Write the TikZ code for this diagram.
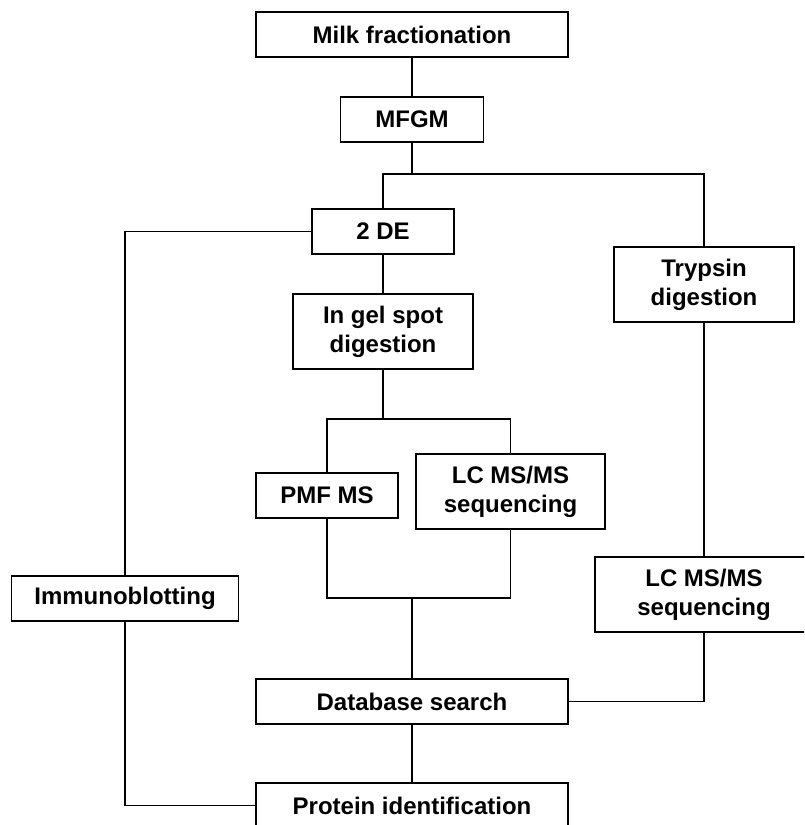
\documentclass[tikz,border=0pt]{standalone}
\usepackage{fontspec}
\setmainfont{Liberation Sans}
\begin{document}
\begin{tikzpicture}[x=1pt,y=-1pt,
  box/.style={draw=black, line width=1.8pt, rectangle, inner sep=0pt, align=center,
    font=\fontsize{24}{29}\selectfont\bfseries},
  conn/.style={line width=1.8pt, black}]
\useasboundingbox (0,0) rectangle (804,825);
\clip (0,0) rectangle (804,825);
\fill[white] (0,0) rectangle (804,825);
\node[box, minimum width=312pt, minimum height=45pt] (milk) at (412,34.5) {Milk fractionation};
\node[box, minimum width=143pt, minimum height=45pt] (mfgm) at (412,119.5) {MFGM};
\node[box, minimum width=142pt, minimum height=45pt] (de) at (383,231.5) {2 DE};
\node[box, minimum width=180pt, minimum height=75pt] (ingel) at (383,331.5) {In gel spot\\digestion};
\node[box, minimum width=180pt, minimum height=75pt] (tryp) at (704,284.5) {Trypsin\\digestion};
\node[box, minimum width=142pt, minimum height=45pt] (pmf) at (327,495.5) {PMF MS};
\node[box, minimum width=189pt, minimum height=75pt] (lc1) at (510.5,491.5) {LC MS/MS\\sequencing};
\node[box, minimum width=227pt, minimum height=45pt] (immuno) at (125,598.5) {Immunoblotting};
\node[box, minimum width=218pt, minimum height=75pt] (lc2) at (704,594.5) {LC MS/MS\\sequencing};
\node[box, minimum width=312pt, minimum height=45pt] (db) at (412,701.5) {Database search};
\node[box, minimum width=312pt, minimum height=45pt] (prot) at (412,805.5) {Protein identification};
\coordinate (j1) at (412,174);
\coordinate (j2) at (383,419);
\coordinate (j3) at (412,598);
\draw[conn] (milk.south) -- (mfgm.north);
\draw[conn] (mfgm.south) -- (j1);
\draw[conn] (de.north) |- (j1) -| (tryp.north);
\draw[conn] (de.west) -| (immuno.north);
\draw[conn] (de.south) -- (ingel.north);
\draw[conn] (ingel.south) -- (j2);
\draw[conn] (pmf.north) |- (j2) -| (lc1.north);
\draw[conn] (pmf.south) |- (j3) -| (lc1.south);
\draw[conn] (j3) -- (db.north);
\draw[conn] (tryp.south) -- (lc2.north);
\draw[conn] (lc2.south) |- (db.east);
\draw[conn] (immuno.south) |- (prot.west);
\draw[conn] (db.south) -- (prot.north);
\end{tikzpicture}
\end{document}
